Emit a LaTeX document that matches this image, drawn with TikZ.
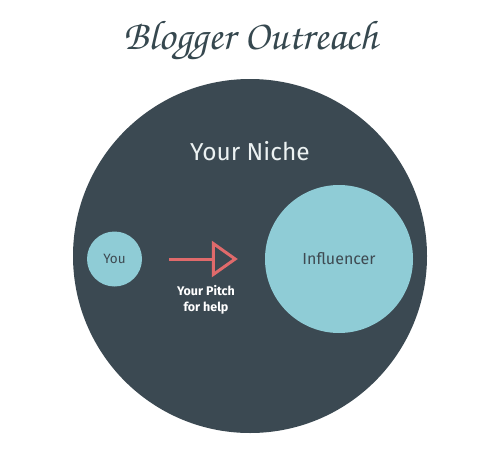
\documentclass[tikz,border=0pt]{standalone}
\usepackage[T1]{fontenc}
\usepackage{fontspec}
\setmainfont{Fira Sans}
\usetikzlibrary{positioning, arrows.meta}

\definecolor{nichecol}{HTML}{3B4952}
\definecolor{bubblecol}{HTML}{8FCCD6}
\definecolor{inkcol}{HTML}{3E4A52}
\definecolor{pitchcol}{HTML}{E06A6B}
\definecolor{titlecol}{HTML}{36484F}
\definecolor{nichetext}{HTML}{ECF2F2}

\newcommand\titlefont{\fontencoding{T1}\fontfamily{pzc}\fontseries{mb}\fontshape{it}\selectfont}

\tikzset{
  bubble/.style={circle, fill=bubblecol, text=inkcol, inner sep=0pt},
  pitcharrow/.style={draw=pitchcol, line width=3pt, -{Triangle[open, length=26pt, width=36pt]}}
}

\begin{document}
\begin{tikzpicture}[x=1pt, y=-1pt]
  \useasboundingbox (0,0) rectangle (500,460);

  \node[text=titlecol, font=\titlefont\fontsize{41.5}{44}\selectfont] (title) at (251,41) {Blogger Outreach};

  \node[circle, fill=nichecol, minimum size=354pt, inner sep=0pt] (niche) at (250,256) {};
  \node[text=nichetext, font=\fontsize{24.5}{28}\selectfont] (nichelabel) at (250,151) {Your Niche};

  \node[bubble, minimum size=55pt, font=\fontsize{13.5}{15}\selectfont] (you) at (114.5,259) {You};
  \node[bubble, minimum size=148pt, font=\fontsize{16}{18}\selectfont] (influencer) at (339,259) {Influencer};

  \draw[pitcharrow, shorten <=27pt, shorten >=27pt] (you) -- (influencer);

  \node[white, align=center, font=\fontsize{12.5}{16}\selectfont\bfseries] (pitch) at (206,300) {Your Pitch\\for help};
\end{tikzpicture}
\end{document}
